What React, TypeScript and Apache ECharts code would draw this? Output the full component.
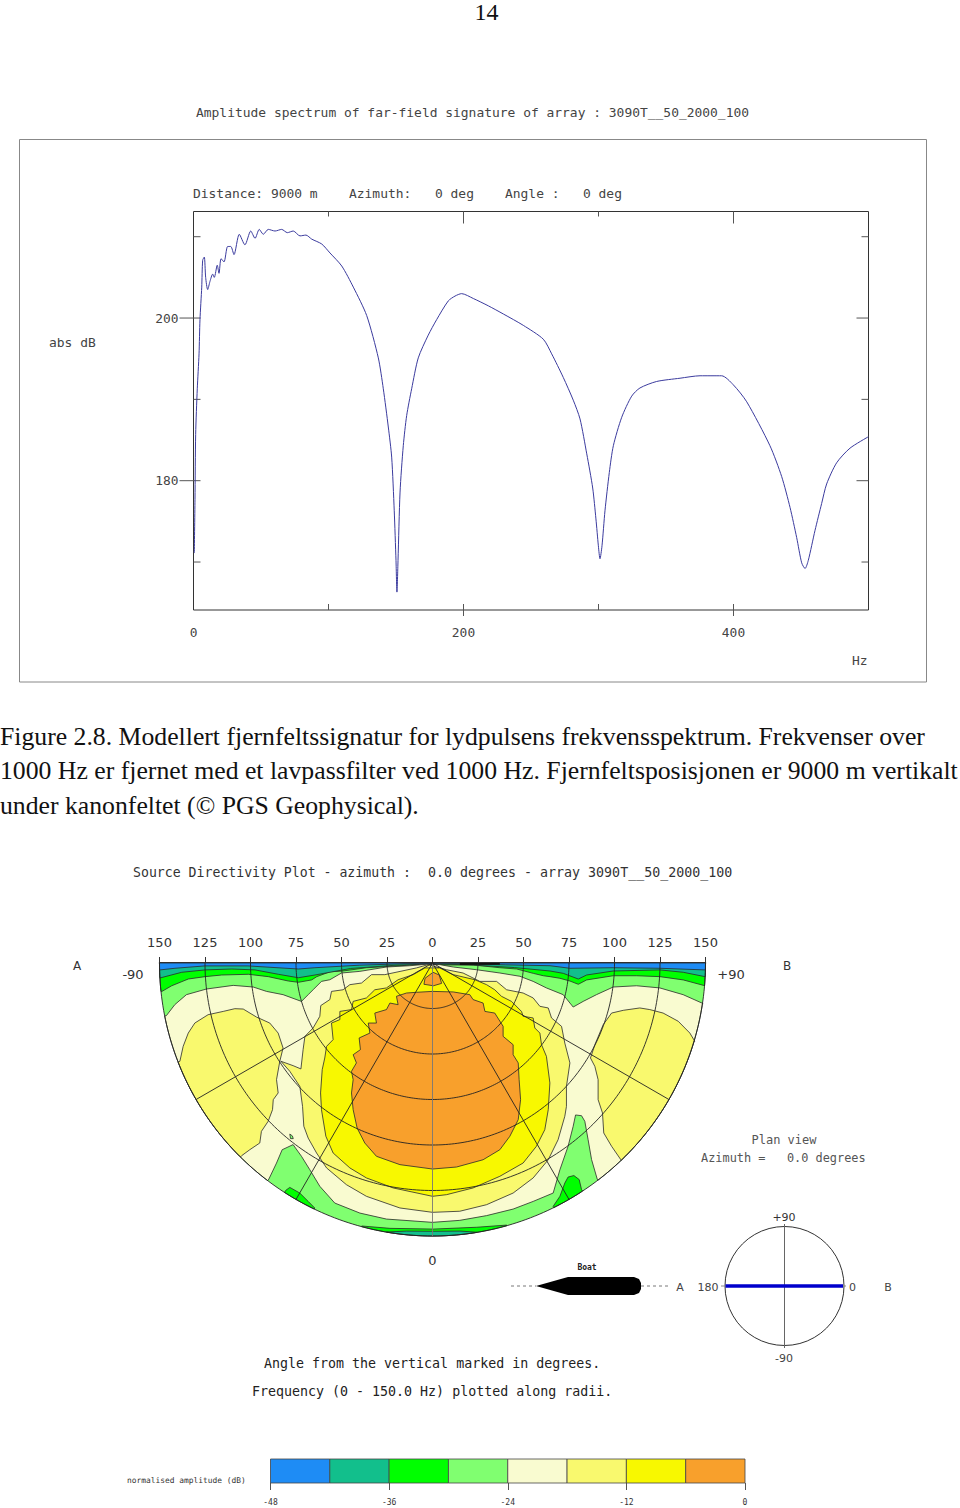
import React, { useEffect, useRef } from "react";
import * as echarts from "echarts";

type P = number[];

const title1 = "Amplitude spectrum of far-field signature of array : 3090T__50_2000_100";
const captionLines = [
  "Figure 2.8. Modellert fjernfeltssignatur for lydpulsens frekvensspektrum. Frekvenser over",
  "1000 Hz er fjernet med et lavpassfilter ved 1000 Hz. Fjernfeltsposisjonen er 9000 m vertikalt",
  "under kanonfeltet (© PGS Geophysical).",
];
const title2a = "Source Directivity Plot - azimuth :";
const title2b = "0.0 degrees - array 3090T__50_2000_100";

// far-field spectrum: [Hz, dB]
const spectrum: P[] = [
  [0.6,171.1],[1.1,177.7],[1.6,185.7],[2.8,191.3],[4.1,195.6],[4.8,199.8],[6.1,203.8],[6.8,207.1],[8,207.5],[9,205],[10.5,203.5],[12.2,204.5],[14.2,205.4],[15.4,205],[17.6,206.5],[18.9,205.5],[20.4,207.3],[22.6,206.9],[25.3,208.8],[27.6,208.8],[30,207.8],[33.9,210.3],[38.1,209],[42.4,210.7],[45.6,209.8],[48.7,210.9],[51.7,210.3],[55.4,210.9],[60.4,210.7],[65.3,210.9],[69.5,210.5],[73.9,210.7],[78.9,210.1],[83.3,210.2],[87.6,209.7],[95,209.1],[101.1,208],[109.8,206.4],[118.4,203.8],[128.3,200.3],[136.9,195.1],[140.6,191.3],[144.3,186.6],[146.8,182.9],[148.7,176.3],[150,170.2],[150.7,166.3],[151.5,170.2],[153,178.6],[155.4,184.3],[157.9,188],[161.6,191.3],[166.5,195.1],[173.9,197.9],[180.1,199.8],[188.7,202.1],[193.7,202.7],[198.6,203],[207.3,202.4],[218.4,201.5],[229.5,200.5],[244.3,199.1],[259.1,197.4],[265.3,195.6],[273.9,192.7],[281.3,189.9],[286.3,187.6],[291.3,183.3],[295.7,179.1],[298.1,175.3],[299.9,172],[301.1,170.4],[302.6,172],[304.8,176.3],[308,181],[311,184.3],[317.2,187.8],[324.6,190.4],[330.7,191.4],[343.1,192.2],[360.4,192.6],[375.2,192.9],[391.2,192.9],[399.8,191.8],[409.8,189.7],[427,184.3],[435.7,180.5],[441.9,176.7],[446.8,173],[450.5,169.9],[453,169.2],[455.4,170.2],[460.4,173.9],[465.3,177.2],[469,179.6],[476.4,182.2],[486.3,184],[499.9,185.4],
];
const freqMajorTicks = [200, 400];
const freqMinorTicks = [100, 300];
const dbMajorTicks = [180, 200];
const dbMinorTicks = [170, 190, 210];

// directivity plot, contour boundaries in Hz: [across, down from the surface]
const blueLower: P[] = [[-149.7,3.8],[-141.5,2.9],[-125,1.6],[-101.4,1.6],[-73.7,3.3],[-64.6,2.6],[-40,1.2],[-15,0.4],[15,0.4],[40,1],[64.6,1.5],[75.5,2.9],[99.3,2.6],[125,2.9],[149.7,3.8]];
const tealLower: P[] = [[-149.2,8.1],[-137.8,5.1],[-125,3.8],[-110.3,3.3],[-97.5,3.8],[-84.7,6.2],[-73.7,8.1],[-64.6,6.6],[-45,3],[-20,1.2],[0,0.5],[20,1],[45,2.5],[64.6,4.4],[71.9,5.7],[80.1,8.8],[84.7,6.6],[99.3,4.4],[125,3.8],[137.8,5.1],[149.7,7.5]];
const greenLower: P[] = [[-148.8,15.7],[-143.3,12.5],[-134.2,8.8],[-125,7.5],[-115.8,6.6],[-101.2,6.2],[-90.2,7.5],[-79.2,9.9],[-73.7,10.6],[-66.4,9.3],[-63.6,7.5],[-56.3,4.8],[-49.2,4.4],[-36.2,2.6],[-17.9,1.5],[-5,0.7],[6,1.1],[22.4,1.1],[37,2.6],[46.3,3.3],[55.4,5.7],[60.9,7],[64.6,7.5],[70,8.4],[75.5,9.9],[80.1,11.7],[84.7,9.3],[99.3,7],[112.2,7],[125,7.5],[137.8,9.3],[149.7,12.5]];
const blackTop: P[] = [[15,0],[37,0],[37,1],[15,1.1]];
const greenBottom: P[] = [[-38.9,144.5],[-23.4,145.8],[0.4,146.2],[24.3,145.2],[40.8,144]];
const tealBottom: P[] = [[-25.2,147.8],[-14.2,147.3],[0.4,147.4],[15.1,147.3],[24.3,147.9]];
const greenBlobLeft: P[] = [[-80.6,124.9],[-78.4,123.3],[-72.9,126.4],[-68.3,131],[-64.7,134.6]];
const greenBlobRight: P[] = [[66.3,133.7],[70,128.2],[72.7,120.9],[74.5,117.6],[77.7,116.8],[80.6,119],[81.9,124.5]];
const paleTop: P[] = [[-146.2,28.9],[-141.6,22.9],[-135.2,17.4],[-124.2,14.3],[-109.5,12.3],[-98.5,13.2],[-91.2,15.6],[-82.1,17.4],[-72,21.1],[-68.3,17.4],[-65.6,14.7],[-61,10.1],[-56.4,9.2],[-50,5.5],[-39.9,4.6],[-25.3,2.2],[-12.5,1.5],[-3.3,0.7],[4,0.9],[11.4,2.2],[24.2,3.7],[37,5.5],[48,7.3],[55.3,10.1],[62.6,13.7],[71.8,17.4],[77.3,24.2],[82.8,21.1],[90.1,17.4],[99.3,13.2],[112.1,12.5],[124.9,13.7],[137.7,17.4],[148.7,22.3]];
const paleLower: P[] = [[90.5,118.7],[87.4,108],[85.5,97.1],[83.7,87],[81.9,83.9],[78.6,83.5],[77.3,89.7],[74.5,100.7],[70,113.6],[66.3,126.4],[55.3,131],[44.3,135.2],[29.7,138.8],[15,141.4],[0,142.5],[-25.3,140.7],[-39.9,137.4],[-53.7,131.9],[-61.9,122.7],[-67.4,113.6],[-72,106.2],[-76.6,99.8],[-82.6,102.6],[-85.7,109.9],[-89.9,118.7]];
const lobeLeft: P[] = [[-138.8,54],[-137,45.8],[-134.2,38.5],[-130.6,33],[-123.3,28.4],[-115,26.6],[-108.6,25.1],[-104,25.3],[-96.7,29.7],[-89.4,33],[-84.8,38.5],[-82.1,46.7],[-83.9,54],[-85.7,64.1],[-84.8,71.4],[-87.5,75.1],[-87.9,80.6],[-90.3,87],[-94,92.5],[-94.9,98.9],[-100.4,102.6],[-104.9,105.9]];
const lobeRight: P[] = [[144.1,43],[141.4,38.5],[135,32],[126.7,27.5],[119.4,25.6],[113.9,24.7],[104.8,26],[98.4,27.5],[93.8,33.9],[89.2,44.9],[86.8,52.2],[89.2,56.8],[91,64.1],[91,75.1],[93.4,82.4],[94.1,93.4],[98.4,100.7],[103.5,108.1]];
const specklePale: P[] = [[-78.4,94],[-77,95],[-76.5,96.5],[-78,96.5]];
const beamMid: P[] = [[0,137],[-17.9,134.6],[-36.3,128.2],[-47.3,121.8],[-58.2,112.6],[-63.7,104.4],[-68.3,96.2],[-70.7,89.7],[-71.4,78.8],[-72.9,67.8],[-78.4,59.5],[-83.3,54],[-76.6,56.4],[-72.3,58.2],[-71.1,47.6],[-70.1,40.3],[-65.6,35.7],[-61.9,29.3],[-61.4,23.4],[-56.4,20.1],[-55.5,15.6],[-49.1,14.7],[-45.4,11.9],[-39,11],[-33.5,6.4],[-26.2,6.4],[-8.8,2.7],[-2.4,0.9],[7.7,3.7],[16.8,5.5],[26,10.1],[35.2,10.1],[40.7,14.7],[49.8,16.5],[55.3,19.2],[59,23.8],[63.6,24.7],[65.4,30.2],[70.9,34.8],[72.7,44],[75.5,54.9],[73.6,67.8],[73.6,78.8],[72.7,84.2],[69,97.1],[63.6,108.1],[55.3,118.1],[44.3,126.4],[29.7,132.8],[15,136.4]];
const beamYellow: P[] = [[0,128.2],[-21.6,123.6],[-36.3,118.1],[-45.4,112.6],[-54.6,104.4],[-58.6,95.2],[-61,80.6],[-61.5,71.4],[-60.6,58.6],[-59.2,52.2],[-58.2,45.8],[-54.6,42.1],[-55.5,33],[-50.9,31.1],[-50.9,26.6],[-44.5,25.6],[-43.6,21.1],[-36.3,19.2],[-31.7,14.7],[-25.3,13.7],[-18.9,9.2],[-10.6,6.4],[-4.2,2.7],[4,2.7],[11.4,6.4],[23.3,9.2],[29.7,11.9],[34.2,14.7],[37.9,18.3],[43.4,21.1],[48.9,26.6],[49.8,29.3],[55.3,30.2],[56.2,35.7],[59,38.5],[59.9,44.9],[62.6,51.3],[64.5,65.9],[63.6,80.6],[61.7,91.6],[57.1,100.7],[49.8,109.9],[37,117.2],[22.3,123.6],[7.7,127.3]];
const beamOrange: P[] = [[0,113.2],[-17.9,110.8],[-30.8,106.2],[-37.2,98.9],[-41.4,90.7],[-43.6,80.6],[-44.5,71.4],[-43.6,64.1],[-44.5,59.5],[-41.8,54.9],[-43.6,50.4],[-39.6,47.6],[-40.3,41.2],[-34.4,38.5],[-35.3,33],[-30.8,33],[-31.7,27.5],[-25.3,25.6],[-23.4,22],[-18.9,22.9],[-19.8,18.3],[-14.3,16.5],[-8.8,16.1],[0,15.6],[11.4,15.9],[20.5,17.4],[22.3,20.1],[27.8,22],[28.8,26.6],[34.2,27.5],[38.8,34.8],[38.8,40.3],[44.3,44.9],[44.3,50.4],[47.1,54.9],[47.6,64.1],[48.4,75.1],[47.1,86.1],[42.5,95.2],[37,102.6],[27.8,108.1],[13.2,112.1]];
const orangeTop: P[] = [[0.3,5.1],[-4.1,8.4],[-4.7,11.7],[0.5,12.5],[5,11.2],[3.7,6.6]];

const radiusGrid = [25, 50, 75, 100, 125, 150];
const angleGrid = [-60, -30, 0, 30, 60];

const legendEdges = [-48, -42, -36, -30, -24, -18, -12, -6, 0];
const legendColors = ["#1e8cf5", "#12bf8c", "#00ff00", "#80ff70", "#f9fbd0", "#f9f96e", "#f8f800", "#f8a02c"];
const [cBlue, cTeal, cGreen, cLight, cPale, cMid, cYellow, cOrange] = legendColors;

const deg = Math.PI / 180;
const angOf = (p: P) => Math.atan2(p[0], p[1]) / deg;
const rimArc = (a: number, b: number): P[] => {
  const n = Math.max(2, Math.ceil(Math.abs(b - a)));
  const out: P[] = [];
  for (let i = 0; i <= n; i++) {
    const t = (a + ((b - a) * i) / n) * deg;
    out.push([150 * Math.sin(t), 150 * Math.cos(t)]);
  }
  return out;
};
const closeRim = (l: P[]): P[] => [...l, ...rimArc(angOf(l[l.length - 1]), angOf(l[0]))];
const strip = (l: P[]): P[] => [...l, ...rimArc(angOf(l[l.length - 1]), 90), ...rimArc(-90, angOf(l[0]))];

const contourLayers: { fill: string; pts: P[]; line: boolean }[] = [
  { fill: cLight, pts: rimArc(-90, 90), line: false },
  { fill: cGreen, pts: strip(greenLower), line: true },
  { fill: cTeal, pts: strip(tealLower), line: true },
  { fill: cBlue, pts: strip(blueLower), line: true },
  { fill: "#111111", pts: blackTop, line: false },
  { fill: cGreen, pts: closeRim(greenBottom), line: true },
  { fill: cTeal, pts: closeRim(tealBottom), line: true },
  { fill: cGreen, pts: closeRim(greenBlobLeft), line: true },
  { fill: cGreen, pts: closeRim(greenBlobRight), line: true },
  {
    fill: cPale,
    pts: closeRim([
      ...paleTop,
      ...rimArc(angOf(paleTop[paleTop.length - 1]), angOf(paleLower[0])),
      ...paleLower,
    ]),
    line: true,
  },
  { fill: cMid, pts: closeRim(lobeLeft), line: true },
  { fill: cMid, pts: closeRim(lobeRight), line: true },
  { fill: cLight, pts: specklePale, line: true },
  { fill: cMid, pts: beamMid, line: true },
  { fill: cYellow, pts: beamYellow, line: true },
  { fill: cOrange, pts: beamOrange, line: true },
  { fill: cOrange, pts: orangeTop, line: true },
];

const gridLines: { pts: P[]; color: string }[] = [
  ...radiusGrid.map((r) => {
    const pts: P[] = [];
    for (let a = -90; a <= 90; a += 1) pts.push([r * Math.sin(a * deg), r * Math.cos(a * deg)]);
    return { pts, color: "#222" };
  }),
  ...angleGrid.map((a) => ({
    pts: [[0, 0], [150 * Math.sin(a * deg), 150 * Math.cos(a * deg)]],
    color: a === 0 ? "#777" : "#222",
  })),
];

const MONO = '"DejaVu Sans Mono", monospace';
const SANS = '"DejaVu Sans", sans-serif';
const SERIF = '"Liberation Serif", serif';

const txt = (x: number, y: number, text: string, o: any = {}) => {
  const align = o.align ?? "left";
  return {
    type: "text",
    x,
    y,
    silent: true,
    style: {
      text,
      x: 0,
      y: 0,
      fill: o.fill ?? "#444",
      font: o.font ?? `12.95px ${MONO}`,
      align,
      textAlign: align,
      verticalAlign: "middle",
      textVerticalAlign: "middle",
    },
  };
};

const tickItems = [
  ...freqMajorTicks.map((v) => ({ ax: "x", v, major: true })),
  ...freqMinorTicks.map((v) => ({ ax: "x", v, major: false })),
  ...dbMajorTicks.map((v) => ({ ax: "y", v, major: true })),
  ...dbMinorTicks.map((v) => ({ ax: "y", v, major: false })),
];
const X_MIN = 0, X_MAX = 500, Y_MIN = 164.1, Y_MAX = 213.1;

function buildOption() {
  return {
    animation: false,
    backgroundColor: "#fff",
    grid: [
      { left: 193.5, top: 211.5, width: 675, height: 398.5, show: true, borderColor: "#333", borderWidth: 1, backgroundColor: "transparent" },
      { left: 159.5, top: 963, width: 546, height: 273 },
      { left: 270.5, top: 1459, width: 474.5, height: 24 },
    ],
    xAxis: [
      {
        gridIndex: 0, type: "value", min: X_MIN, max: X_MAX, splitLine: { show: false }, axisLine: { show: false }, axisTick: { show: false },
        axisLabel: { customValues: [0, 200, 400], margin: 16, color: "#444", fontFamily: MONO, fontSize: 12.9 },
      },
      {
        gridIndex: 1, type: "value", position: "top", min: -150, max: 150, interval: 25, splitLine: { show: false },
        axisLine: { show: true, onZero: false, lineStyle: { color: "#111", width: 1.5 } },
        axisTick: { show: true, length: 6, lineStyle: { color: "#333" } },
        axisLabel: { margin: 14, color: "#333", fontFamily: SANS, fontSize: 13, formatter: (v: number) => String(Math.abs(v)), hideOverlap: false, showMinLabel: true, showMaxLabel: true },
      },
      {
        gridIndex: 2, type: "value", min: -48, max: 0, interval: 12, splitLine: { show: false },
        axisLine: { show: false }, axisTick: { show: true, length: 7, lineStyle: { color: "#555" } },
        axisLabel: { margin: 15, color: "#333", fontFamily: MONO, fontSize: 8, showMinLabel: true, showMaxLabel: true },
      },
    ],
    yAxis: [
      {
        gridIndex: 0, type: "value", min: Y_MIN, max: Y_MAX, splitLine: { show: false }, axisLine: { show: false }, axisTick: { show: false },
        axisLabel: { customValues: dbMajorTicks, margin: 15, color: "#444", fontFamily: MONO, fontSize: 12.9 },
      },
      { gridIndex: 1, type: "value", min: 0, max: 150, inverse: true, show: false },
      { gridIndex: 2, type: "value", min: 0, max: 1, show: false },
    ],
    series: [
      {
        type: "line", xAxisIndex: 0, yAxisIndex: 0, data: spectrum, showSymbol: false, symbol: "none", smooth: 0.25, silent: true,
        lineStyle: { color: "#3b3b9e", width: 1 },
      },
      {
        type: "custom", xAxisIndex: 0, yAxisIndex: 0, silent: true, clip: false,
        data: tickItems.map((_, i) => [0, 170 + i]),
        renderItem: (p: any, api: any) => {
          const t = tickItems[p.dataIndex];
          const ls = { stroke: "#555", lineWidth: 1 };
          if (t.ax === "x") {
            const top = api.coord([t.v, Y_MAX]);
            const bot = api.coord([t.v, Y_MIN]);
            return {
              type: "group",
              children: [
                { type: "line", shape: { x1: top[0], y1: top[1], x2: top[0], y2: top[1] + (t.major ? 12 : 5) }, style: ls },
                { type: "line", shape: { x1: bot[0], y1: bot[1] - 6, x2: bot[0], y2: bot[1] + (t.major ? 6 : 0) }, style: ls },
              ],
            };
          }
          const l = api.coord([X_MIN, t.v]);
          const r = api.coord([X_MAX, t.v]);
          return {
            type: "group",
            children: [
              { type: "line", shape: { x1: l[0] - (t.major ? 14 : 0), y1: l[1], x2: l[0] + 7, y2: l[1] }, style: ls },
              { type: "line", shape: { x1: r[0] - (t.major ? 12 : 7), y1: r[1], x2: r[0], y2: r[1] }, style: ls },
            ],
          };
        },
      },
      {
        type: "custom", xAxisIndex: 1, yAxisIndex: 1, silent: true, clip: false, z: 2,
        data: contourLayers.map((_, i) => [0, i]),
        renderItem: (p: any, api: any) => {
          const l = contourLayers[p.dataIndex];
          return {
            type: "polygon",
            z2: p.dataIndex,
            shape: { points: l.pts.map((q) => api.coord(q)) },
            style: { fill: l.fill, stroke: l.line ? "#2a2a2a" : "none", lineWidth: 0.8 },
          };
        },
      },
      {
        type: "custom", xAxisIndex: 1, yAxisIndex: 1, silent: true, clip: false, z: 3,
        data: gridLines.map((_, i) => [0, i]),
        renderItem: (p: any, api: any) => {
          const g = gridLines[p.dataIndex];
          return {
            type: "polyline",
            shape: { points: g.pts.map((q) => api.coord(q)) },
            style: { fill: "none", stroke: g.color, lineWidth: 0.9 },
          };
        },
      },
      {
        type: "custom", xAxisIndex: 2, yAxisIndex: 2, silent: true, clip: false,
        data: legendColors.map((_, i) => [legendEdges[i], 0]),
        renderItem: (p: any, api: any) => {
          const i = p.dataIndex;
          const a = api.coord([legendEdges[i], 1]);
          const b = api.coord([legendEdges[i + 1], 0]);
          return {
            type: "rect",
            shape: { x: a[0], y: a[1], width: b[0] - a[0], height: b[1] - a[1] },
            style: { fill: legendColors[i], stroke: "#444", lineWidth: 0.8 },
          };
        },
      },
    ],
    graphic: {
      elements: [
        { type: "rect", silent: true, shape: { x: 19.5, y: 139.5, width: 907, height: 542.5 }, style: { fill: "none", stroke: "#888", lineWidth: 1 } },
        txt(486.5, 12, "14", { font: `24px ${SERIF}`, fill: "#111", align: "center" }),
        txt(196, 112.5, title1),
        txt(193, 193, "Distance: 9000 m"),
        txt(349, 193, "Azimuth:"),
        txt(435, 193, "0 deg"),
        txt(505, 193, "Angle :"),
        txt(583, 193, "0 deg"),
        txt(49, 342, "abs dB"),
        txt(852, 660, "Hz"),
        ...captionLines.map((c, i) => txt(0, 736 + i * 34.6, c, { font: `25.73px ${SERIF}`, fill: "#111" })),
        txt(133, 872.5, title2a, { fill: "#333", font: `13.2px ${MONO}` }),
        txt(428, 872.5, title2b, { fill: "#333", font: `13.3px ${MONO}` }),
        txt(77, 966, "A", { font: `12px ${SANS}`, fill: "#333", align: "center" }),
        txt(787, 966, "B", { font: `12px ${SANS}`, fill: "#333", align: "center" }),
        txt(133, 974, "-90", { font: `13px ${SANS}`, fill: "#333", align: "center" }),
        txt(731, 974, "+90", { font: `13px ${SANS}`, fill: "#333", align: "center" }),
        txt(432.5, 1260, "0", { font: `13px ${SANS}`, fill: "#333", align: "center" }),
        txt(784, 1140, "Plan view", { font: `12px ${MONO}`, align: "center", fill: "#555" }),
        txt(701, 1158, "Azimuth =   0.0 degrees", { font: `11.9px ${MONO}`, fill: "#555" }),
        txt(587, 1267, "Boat", { font: `bold 8px ${MONO}`, fill: "#222", align: "center" }),
        { type: "line", silent: true, shape: { x1: 511, y1: 1286, x2: 536, y2: 1286 }, style: { stroke: "#555", lineWidth: 0.8, lineDash: [3, 3] } },
        { type: "line", silent: true, shape: { x1: 641, y1: 1286, x2: 668, y2: 1286 }, style: { stroke: "#555", lineWidth: 0.8, lineDash: [3, 3] } },
        { type: "polygon", silent: true, shape: { points: [[536, 1286], [568, 1277], [634, 1277], [639, 1279], [641, 1283], [641, 1289], [639, 1293], [634, 1295], [568, 1295]] }, style: { fill: "#000" } },
        txt(680, 1287, "A", { font: `11px ${SANS}`, fill: "#444", align: "center" }),
        txt(708, 1287, "180", { font: `11px ${SANS}`, fill: "#444", align: "center" }),
        txt(852.5, 1287, "0", { font: `11px ${SANS}`, fill: "#444", align: "center" }),
        txt(888, 1287, "B", { font: `11px ${SANS}`, fill: "#444", align: "center" }),
        txt(784, 1217, "+90", { font: `11px ${SANS}`, fill: "#333", align: "center" }),
        txt(784, 1358, "-90", { font: `11px ${SANS}`, fill: "#444", align: "center" }),
        { type: "circle", silent: true, shape: { cx: 784.5, cy: 1286, r: 59.5 }, style: { fill: "none", stroke: "#333", lineWidth: 1 } },
        { type: "line", silent: true, shape: { x1: 784.5, y1: 1224, x2: 784.5, y2: 1348 }, style: { stroke: "#666", lineWidth: 1 } },
        { type: "line", silent: true, shape: { x1: 721, y1: 1286, x2: 846, y2: 1286 }, style: { stroke: "#888", lineWidth: 1 } },
        { type: "line", silent: true, shape: { x1: 725.5, y1: 1286, x2: 843, y2: 1286 }, style: { stroke: "#0000cc", lineWidth: 3.5 } },
        txt(264, 1363, "Angle from the vertical marked in degrees.", { font: `13.3px ${MONO}`, fill: "#222" }),
        txt(252, 1391, "Frequency (0 - 150.0 Hz) plotted along radii.", { font: `13.3px ${MONO}`, fill: "#222" }),
        txt(127, 1480, "normalised amplitude (dB)", { font: `7.9px ${MONO}`, fill: "#333" }),
      ],
    },
  };
}

export default function App() {
  const ref = useRef<HTMLDivElement>(null);
  useEffect(() => {
    const chart = echarts.init(ref.current!, null, { renderer: "svg" });
    chart.setOption(buildOption() as any);
    return () => chart.dispose();
  }, []);
  return <div ref={ref} style={{ position: "absolute", left: 0, top: 0, width: 960, height: 1508, background: "#fff" }} />;
}
